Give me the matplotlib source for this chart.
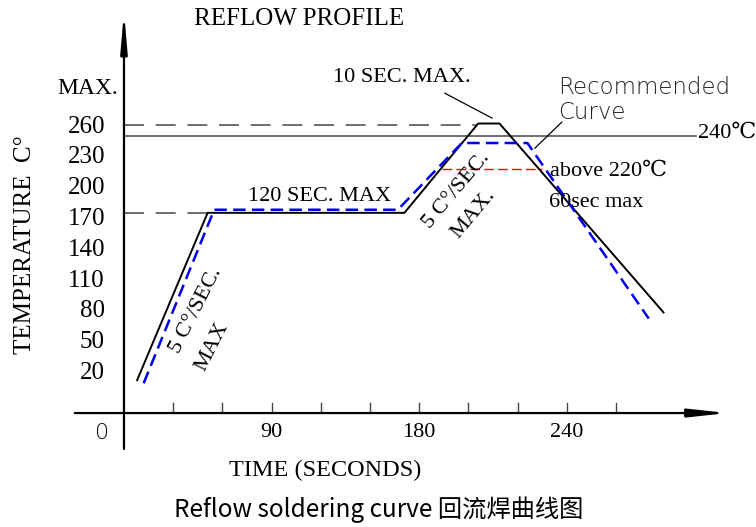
import matplotlib.pyplot as plt

# Profile data (time in s, temperature in deg C)
t_max = [8, 51, 171, 216, 229, 329]
T_max = [13, 176, 176, 263, 263, 79]
t_rec = [12, 55, 167, 206, 246, 320]
T_rec = [10, 179, 179, 244, 244, 73]

ytick_vals = [20, 50, 80, 110, 140, 170, 200, 230, 260]
xtick_pos = [90, 180, 270]
xtick_labels = ['90', '180', '240']
tick_marks = [30, 60, 90, 120, 150, 180, 210, 240, 270, 300]

peak_T = 262      # dashed line at the peak
limit_T = 251     # solid line labelled 240C
soak_T = 176      # dashed line at the soak plateau
liquid_T = 219    # red dashed line (above 220C)

serif = ['Liberation Serif', 'DejaVu Serif', 'DejaVu Sans']

fig = plt.figure(figsize=(7.56, 5.27), dpi=100)
ax = fig.add_axes([0, 0, 1, 1])
ax.set_xlim(-75.6, 385.4)
ax.set_ylim(-130, 383.3)
ax.set_axis_off()

# axes with arrows
ax.annotate('', xy=(0, 372), xytext=(0, -54),
            arrowprops=dict(arrowstyle='-|>,head_length=2.3,head_width=0.2',
                            lw=1.6, color='black', shrinkA=0, shrinkB=0))
ax.annotate('', xy=(368, -19), xytext=(-30, -19),
            arrowprops=dict(arrowstyle='-|>,head_length=2.3,head_width=0.25',
                            lw=1.6, color='black', shrinkA=0, shrinkB=0))
for tm in tick_marks:
    ax.plot([tm, tm], [-19, -9], color='#444444', lw=1)

# reference lines
ax.plot([0, t_max[3]], [peak_T, peak_T], color='#555555', lw=1.2, dashes=(12, 7))
ax.plot([0, 349], [limit_T, limit_T], color='#555555', lw=1.2)
ax.plot([0, t_max[1]], [soak_T, soak_T], color='#555555', lw=1.2, dashes=(12, 7))
ax.plot([194, 255], [liquid_T, liquid_T], color='red', lw=1, dashes=(7, 3))

# profiles
ax.plot(t_max, T_max, color='black', lw=1.4)
ax.plot(t_rec, T_rec, color='#0000ee', lw=1.8, dashes=(5, 2.5))

# tick labels
for v in ytick_vals:
    ax.text(-11.6, v, str(v), ha='right', va='center', fontsize=18, family=serif)
ax.text(-3.7, 297, 'MAX.', ha='right', va='center', fontsize=17, family=serif)
for p, lab in zip(xtick_pos, xtick_labels):
    ax.text(p, -38, lab, ha='center', va='center', fontsize=16, family=serif)
ax.text(-13.4, -38, '0', ha='center', va='center', fontsize=16, family='DejaVu Sans',
        fontweight='light')

# titles and labels
ax.text(107, 365, 'REFLOW PROFILE', ha='center', va='center', fontsize=18, family=serif)
ax.text(-60.4, 145, 'TEMPERATURE  C°', ha='center', va='center', rotation=90,
        fontsize=18, family=serif)
ax.text(122.6, -74.5, 'TIME (SECONDS)', ha='center', va='center', fontsize=17.5,
        family=serif)
ax.text(155.5, -113.5, 'Reflow soldering curve 回流焊曲线图', ha='center', va='center',
        fontsize=17.5, family=['Noto Sans CJK SC', 'DejaVu Sans'])

# annotations
ax.text(119, 192, '120 SEC. MAX', ha='center', va='center', fontsize=16, family=serif)
ax.text(169.5, 308, '10 SEC. MAX.', ha='center', va='center', fontsize=16, family=serif)
ax.plot([195.7, 224.4], [292.5, 268.3], color='black', lw=0.9)
ax.text(264.6, 286, 'Recommended\nCurve', ha='left', va='center', fontsize=16.5,
        family='DejaVu Sans', fontweight='light', color='#222222', linespacing=1.1)
ax.plot([267, 250.6], [264.4, 239], color='black', lw=0.9)
ax.text(259.8, 216, 'above 220℃', ha='left', va='center', fontsize=16, family=serif)
ax.text(259.1, 186, '60sec max', ha='left', va='center', fontsize=16, family=serif)
ax.text(350, 253.5, '240℃', ha='left', va='center', fontsize=16, family=serif)

ax.text(43.9, 81, '5 C°/SEC.', ha='center', va='center', rotation=63,
        rotation_mode='anchor', fontsize=16, family=serif)
ax.text(53.5, 46, 'MAX', ha='center', va='center', rotation=63,
        rotation_mode='anchor', fontsize=16, family=serif)
ax.text(203, 198, '5 C°/SEC.', ha='center', va='center', rotation=50,
        rotation_mode='anchor', fontsize=16, family=serif)
ax.text(212.8, 175, 'MAX.', ha='center', va='center', rotation=50,
        rotation_mode='anchor', fontsize=16, family=serif)

fig.savefig('out.png', dpi=100)
